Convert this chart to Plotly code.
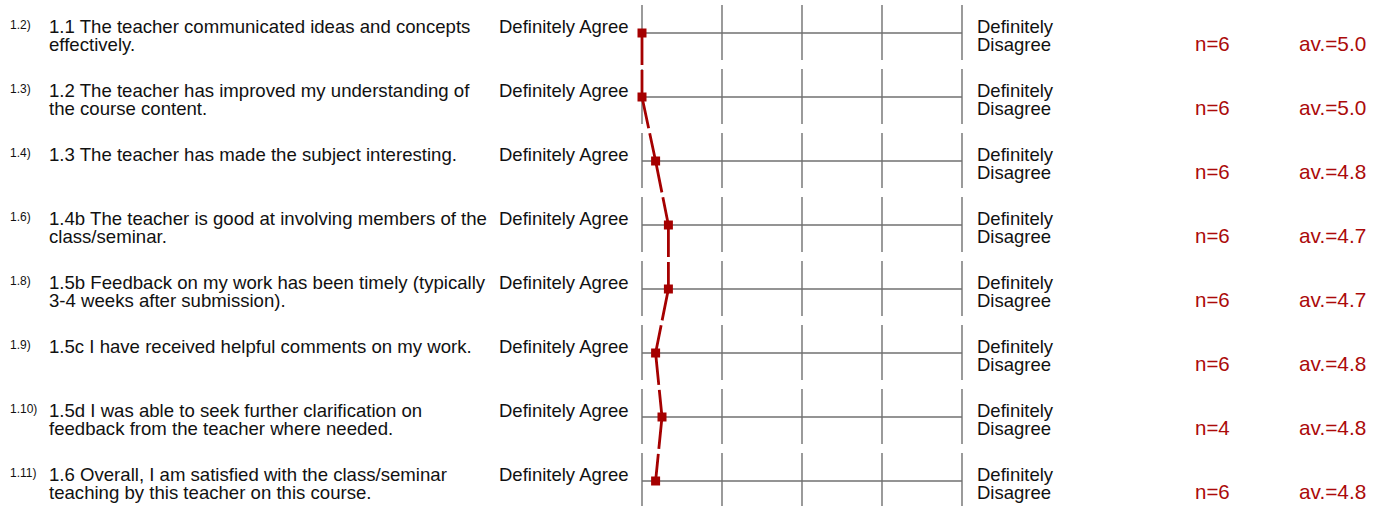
import plotly.graph_objects as go

# ---------------- data ----------------
item_numbers = ["1.2)", "1.3)", "1.4)", "1.6)", "1.8)", "1.9)", "1.10)", "1.11)"]
question_lines = [
    ["1.1 The teacher communicated ideas and concepts", "effectively."],
    ["1.2 The teacher has improved my understanding of", "the course content."],
    ["1.3 The teacher has made the subject interesting."],
    ["1.4b The teacher is good at involving members of the", "class/seminar."],
    ["1.5b Feedback on my work has been timely (typically", "3-4 weeks after submission)."],
    ["1.5c I have received helpful comments on my work."],
    ["1.5d I was able to seek further clarification on", "feedback from the teacher where needed."],
    ["1.6 Overall, I am satisfied with the class/seminar", "teaching by this teacher on this course."],
]
n_responses = [6, 6, 6, 6, 6, 6, 4, 6]
mean_values = [5.0, 5.0, 4.83, 4.67, 4.67, 4.83, 4.75, 4.83]
average_labels = ["5.0", "5.0", "4.8", "4.7", "4.7", "4.8", "4.8", "4.8"]
scale_points = [1, 2, 3, 4, 5]
left_pole = "Definitely Agree"
right_pole = ["Definitely", "Disagree"]

# ---------------- layout constants ----------------
W, H = 1381, 506
ROW_PX = 64.0          # pixel pitch of rows
FIRST_ROW_PX = 33.0    # pixel y of first row line
SCALE_LEFT_PX, SCALE_RIGHT_PX = 642.0, 962.0
PAD_UNITS = 0.08       # extra axis room so nothing is clipped at the scale ends
RED = "#a50000"
TEXT_RED = "#ab0a0a"
GRID = "#707070"
FONT = "Liberation Sans, Arial, sans-serif"

rows = list(range(len(item_numbers)))
px_per_unit = (SCALE_RIGHT_PX - SCALE_LEFT_PX) / (max(scale_points) - min(scale_points))


def off(px):
    """pixel offset -> y-axis units"""
    return px / ROW_PX


def paper_x(px):
    return px / W


fig = go.Figure()

# dashed connecting line, segment by segment (dash restarts at each point)
for k in range(len(rows) - 1):
    fig.add_trace(go.Scatter(
        x=[mean_values[k], mean_values[k + 1]],
        y=[rows[k], rows[k + 1]],
        mode="lines",
        line=dict(color=RED, width=2.8, dash="32px,5px"),
        hoverinfo="skip", cliponaxis=False,
        showlegend=False,
    ))

# markers
fig.add_trace(go.Scatter(
    x=mean_values, y=rows, mode="markers",
    marker=dict(symbol="square", size=9, color=RED, line=dict(width=0)),
    cliponaxis=False, showlegend=False,
))

shapes = []
annotations = []
for i in rows:
    # horizontal scale line
    shapes.append(dict(type="line", xref="x", yref="y", layer="below",
                       x0=max(scale_points), x1=min(scale_points), y0=i, y1=i,
                       line=dict(color=GRID, width=1.4)))
    # vertical tick segments
    for p in scale_points:
        shapes.append(dict(type="line", xref="x", yref="y", layer="below",
                           x0=p, x1=p, y0=i - off(28), y1=i + off(27),
                           line=dict(color=GRID, width=1.4)))

    # item number
    annotations.append(dict(text=item_numbers[i], x=paper_x(8), xref="paper",
                            y=i - off(8.5), yref="y", xanchor="left", yanchor="middle",
                            showarrow=False, font=dict(family=FONT, size=12, color="#111")))
    # question text lines
    for j, line in enumerate(question_lines[i]):
        annotations.append(dict(text=line, x=paper_x(47), xref="paper",
                                y=i + off(-6.6 + 18.0 * j), yref="y",
                                xanchor="left", yanchor="middle", showarrow=False,
                                font=dict(family=FONT, size=18.6, color="#111")))
    # left pole
    annotations.append(dict(text=left_pole, x=paper_x(497), xref="paper",
                            y=i + off(-6.4), yref="y", xanchor="left", yanchor="middle",
                            showarrow=False, font=dict(family=FONT, size=18.5, color="#111")))
    # right pole
    for j, line in enumerate(right_pole):
        annotations.append(dict(text=line, x=paper_x(975), xref="paper",
                                y=i + off(-7.0 + 18.4 * j), yref="y",
                                xanchor="left", yanchor="middle", showarrow=False,
                                font=dict(family=FONT, size=18.5, color="#111")))
    # n and average
    annotations.append(dict(text=f"n={n_responses[i]}", x=paper_x(1193), xref="paper",
                            y=i + off(10.5), yref="y", xanchor="left", yanchor="middle",
                            showarrow=False, font=dict(family=FONT, size=20.5, color=TEXT_RED)))
    annotations.append(dict(text=f"av.={average_labels[i]}", x=paper_x(1297), xref="paper",
                            y=i + off(10.5), yref="y", xanchor="left", yanchor="middle",
                            showarrow=False, font=dict(family=FONT, size=20.8, color=TEXT_RED)))

y_top = -FIRST_ROW_PX / ROW_PX
y_bottom = (H - FIRST_ROW_PX) / ROW_PX

pad_px = PAD_UNITS * px_per_unit
fig.update_layout(
    width=W, height=H,
    margin=dict(l=0, r=0, t=0, b=0),
    paper_bgcolor="white", plot_bgcolor="white",
    shapes=shapes, annotations=annotations,
    xaxis=dict(domain=[paper_x(SCALE_LEFT_PX - pad_px), paper_x(SCALE_RIGHT_PX + pad_px)],
               range=[max(scale_points) + PAD_UNITS, min(scale_points) - PAD_UNITS],
               visible=False, showgrid=False, zeroline=False),
    yaxis=dict(domain=[0, 1], range=[y_bottom, y_top],
               visible=False, showgrid=False, zeroline=False),
    showlegend=False,
)

fig.write_html(
    "out.html",
    config={"displayModeBar": False},
    post_script="document.body.style.margin='0';document.body.style.overflow='hidden';",
)
